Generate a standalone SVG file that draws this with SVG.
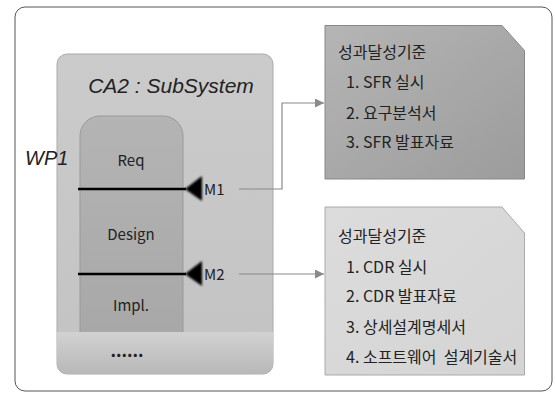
<svg xmlns="http://www.w3.org/2000/svg" width="555" height="394" viewBox="0 0 555 394">
  <style>
    .lbl { font-family: "Noto Sans CJK KR", "Liberation Sans", sans-serif; fill: #222; }
    .title { font-family: "Liberation Sans", "Noto Sans CJK KR", sans-serif; font-style: italic; fill: #222; }
    .phase { font-size: 15px; text-anchor: middle; }
    .note { font-size: 16px; white-space: pre; }
    .conn { fill: none; stroke: #8a8a8a; stroke-width: 1.2; }
    .mline { stroke: #000; stroke-width: 2.5; }
  </style>
  <defs>
    <linearGradient id="sysFill" x1="0" y1="0" x2="0" y2="1">
      <stop offset="0" stop-color="#cbcbcb"/>
      <stop offset="1" stop-color="#c3c3c3"/>
    </linearGradient>
    <linearGradient id="bandFill" x1="0" y1="0" x2="0" y2="1">
      <stop offset="0" stop-color="#d2d2d2"/>
      <stop offset="1" stop-color="#b8b8b8"/>
    </linearGradient>
    <linearGradient id="colFill" x1="0" y1="0" x2="0" y2="1">
      <stop offset="0" stop-color="#b4b4b4"/>
      <stop offset="1" stop-color="#a8a8a8"/>
    </linearGradient>
    <linearGradient id="darkNote" x1="0" y1="0" x2="1" y2="1">
      <stop offset="0" stop-color="#b5b5b5"/>
      <stop offset="1" stop-color="#9c9c9c"/>
    </linearGradient>
    <linearGradient id="lightNote" x1="0" y1="0" x2="1" y2="1">
      <stop offset="0" stop-color="#dcdcdc"/>
      <stop offset="1" stop-color="#d4d4d4"/>
    </linearGradient>
    <filter id="soft" x="-30%" y="-30%" width="160%" height="160%">
      <feGaussianBlur stdDeviation="0.9"/>
    </filter>
    <marker id="arrow" viewBox="0 0 10 10" refX="10" refY="5" markerWidth="9" markerHeight="9" markerUnits="userSpaceOnUse" orient="auto">
      <path d="M0,0 L10,5 L0,10 z" fill="#8a8a8a"/>
    </marker>
  </defs>

  <!-- outer frame -->
  <rect x="15" y="7" width="537" height="384" rx="10" fill="#fff" stroke="#555" stroke-width="1"/>

  <!-- subsystem container -->
  <g id="subsystem">
    <rect x="57" y="54" width="216" height="320" rx="10" fill="url(#sysFill)" stroke="#aaa" stroke-width="1"/>
    <path d="M57,332 H273 V364 a10,10 0 0 1 -10,10 H67 a10,10 0 0 1 -10,-10 z" fill="url(#bandFill)"/>
    <text class="title" x="171" y="93" font-size="21" text-anchor="middle">CA2 : SubSystem</text>
    <text class="lbl" x="127" y="357" font-size="17" font-weight="bold" text-anchor="middle">......</text>
  </g>

  <!-- phase column -->
  <g id="phases">
    <path d="M80,332 V136 a20,20 0 0 1 20,-20 H163 a20,20 0 0 1 20,20 V332" fill="url(#colFill)" stroke="#999" stroke-width="1"/>
    <text class="lbl phase" x="131" y="166">Req</text>
    <text class="lbl phase" x="131" y="240">Design</text>
    <text class="lbl phase" x="131" y="311">Impl.</text>
  </g>

  <g id="wp1">
    <text class="title" x="25" y="165" font-size="20">WP1</text>
  </g>

  <!-- milestones -->
  <g id="m1">
    <line class="mline" x1="78" y1="189" x2="186" y2="189"/>
    <path d="M185,189 L202,176 L202,201 z" fill="#000" filter="url(#soft)"/>
    <text class="lbl" x="204" y="194.5" font-size="15">M1</text>
  </g>
  <g id="m2">
    <line class="mline" x1="78" y1="274" x2="186" y2="274"/>
    <path d="M185,274 L202,261 L202,286 z" fill="#000" filter="url(#soft)"/>
    <text class="lbl" x="204" y="279.5" font-size="15">M2</text>
  </g>

  <!-- connectors -->
  <g id="connectors">
    <path class="conn" d="M239,189 H282 V103 H324" marker-end="url(#arrow)"/>
    <path class="conn" d="M239,274 H324" marker-end="url(#arrow)"/>
  </g>

  <!-- criteria notes -->
  <g id="criteria-m1">
    <path d="M325,25.5 H502 L524.5,50.5 V179 H325 z" fill="url(#darkNote)" stroke="#888" stroke-width="1"/>
    <text class="lbl note" x="338" y="58">성과달성기준</text>
    <text class="lbl note" x="346" y="88">1. SFR 실시</text>
    <text class="lbl note" x="346" y="119">2. 요구분석서</text>
    <text class="lbl note" x="346" y="148">3. SFR 발표자료</text>
  </g>
  <g id="criteria-m2">
    <path d="M325,207 H502 L524.5,233 V375 H325 z" fill="url(#lightNote)" stroke="#aaa" stroke-width="1"/>
    <text class="lbl note" x="338" y="242">성과달성기준</text>
    <text class="lbl note" x="346" y="273">1. CDR 실시</text>
    <text class="lbl note" x="346" y="302">2. CDR 발표자료</text>
    <text class="lbl note" x="346" y="333">3. 상세설계명세서</text>
    <text class="lbl note" x="346" y="363">4. 소프트웨어  설계기술서</text>
  </g>
</svg>
